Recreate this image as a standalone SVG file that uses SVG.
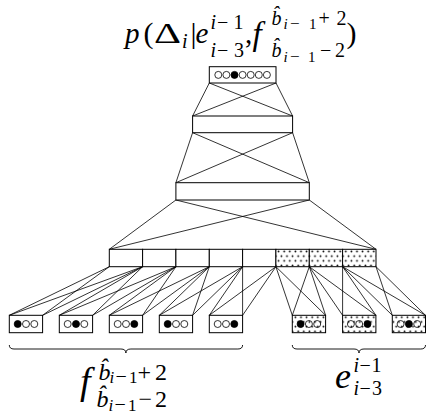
<svg xmlns="http://www.w3.org/2000/svg" width="426" height="414" viewBox="0 0 426 414">
<defs>
<pattern id="dots" width="5.6" height="9.4" patternUnits="userSpaceOnUse">
<rect width="5.6" height="9.4" fill="#fff"/>
<circle cx="1.4" cy="2.4" r="0.9" fill="#000"/>
<circle cx="4.2" cy="7.1" r="0.9" fill="#000"/>
</pattern>
</defs>
<style>
.bx{fill:#fff;stroke:#000;stroke-width:1}
.dt{fill:url(#dots);stroke:#000;stroke-width:1}
.co{fill:#fff;stroke:#000;stroke-width:0.8}
.cn{fill:none;stroke:#000;stroke-width:0.8}
.cf{fill:#000;stroke:#000;stroke-width:0.8}
#edges line{stroke:#000;stroke-width:0.8}
text{font-family:"Liberation Serif","Times New Roman",serif;fill:#000}
.i{font-style:italic}
</style>
<g id="edges">
<line x1="209.3" y1="83" x2="192.6" y2="116"/>
<line x1="276" y1="83" x2="292.6" y2="116"/>
<line x1="209.3" y1="83" x2="292.6" y2="116"/>
<line x1="276" y1="83" x2="192.6" y2="116"/>
<line x1="192.6" y1="132.7" x2="175.9" y2="182.7"/>
<line x1="292.6" y1="132.7" x2="309.3" y2="182.7"/>
<line x1="192.6" y1="132.7" x2="309.3" y2="182.7"/>
<line x1="292.6" y1="132.7" x2="175.9" y2="182.7"/>
<line x1="175.9" y1="200" x2="109.3" y2="249.3"/>
<line x1="309.3" y1="200" x2="376" y2="249.3"/>
<line x1="175.9" y1="200" x2="376" y2="249.3"/>
<line x1="309.3" y1="200" x2="109.3" y2="249.3"/>
<line x1="109.3" y1="266.7" x2="9.3" y2="315.3"/>
<line x1="142.6" y1="266.7" x2="42.6" y2="315.3"/>
<line x1="109.3" y1="266.7" x2="42.6" y2="315.3"/>
<line x1="142.6" y1="266.7" x2="9.3" y2="315.3"/>
<line x1="142.6" y1="266.7" x2="59.3" y2="315.3"/>
<line x1="175.9" y1="266.7" x2="92.6" y2="315.3"/>
<line x1="142.6" y1="266.7" x2="92.6" y2="315.3"/>
<line x1="175.9" y1="266.7" x2="59.3" y2="315.3"/>
<line x1="175.9" y1="266.7" x2="109.3" y2="315.3"/>
<line x1="209.3" y1="266.7" x2="142.6" y2="315.3"/>
<line x1="175.9" y1="266.7" x2="142.6" y2="315.3"/>
<line x1="209.3" y1="266.7" x2="109.3" y2="315.3"/>
<line x1="209.3" y1="266.7" x2="159.3" y2="315.3"/>
<line x1="242.6" y1="266.7" x2="192.6" y2="315.3"/>
<line x1="209.3" y1="266.7" x2="192.6" y2="315.3"/>
<line x1="242.6" y1="266.7" x2="159.3" y2="315.3"/>
<line x1="242.6" y1="266.7" x2="209.3" y2="315.3"/>
<line x1="275.9" y1="266.7" x2="242.6" y2="315.3"/>
<line x1="242.6" y1="266.7" x2="242.6" y2="315.3"/>
<line x1="275.9" y1="266.7" x2="209.3" y2="315.3"/>
<line x1="275.9" y1="266.7" x2="292.3" y2="315.3"/>
<line x1="309.3" y1="266.7" x2="325.6" y2="315.3"/>
<line x1="275.9" y1="266.7" x2="325.6" y2="315.3"/>
<line x1="309.3" y1="266.7" x2="292.3" y2="315.3"/>
<line x1="309.3" y1="266.7" x2="342.6" y2="315.3"/>
<line x1="342.6" y1="266.7" x2="375.9" y2="315.3"/>
<line x1="309.3" y1="266.7" x2="375.9" y2="315.3"/>
<line x1="342.6" y1="266.7" x2="342.6" y2="315.3"/>
<line x1="342.6" y1="266.7" x2="392.3" y2="315.3"/>
<line x1="376" y1="266.7" x2="425.5" y2="315.3"/>
<line x1="342.6" y1="266.7" x2="425.5" y2="315.3"/>
<line x1="376" y1="266.7" x2="392.3" y2="315.3"/>
</g>
<g id="out">
<rect class="bx" x="209.3" y="66.7" width="66.7" height="16.3"/>
<circle class="co" cx="218.3" cy="74.9" r="3.5"/>
<circle class="co" cx="226.4" cy="74.9" r="3.5"/>
<circle class="cf" cx="234.5" cy="74.9" r="3.5"/>
<circle class="co" cx="242.6" cy="74.9" r="3.5"/>
<circle class="co" cx="250.7" cy="74.9" r="3.5"/>
<circle class="co" cx="258.8" cy="74.9" r="3.5"/>
<circle class="co" cx="266.9" cy="74.9" r="3.5"/>
</g>
<g id="h2"><rect class="bx" x="192.6" y="116" width="100" height="16.7"/></g>
<g id="h3"><rect class="bx" x="175.9" y="182.7" width="133.4" height="17.3"/></g>
<g id="proj">
<rect class="bx" x="109.3" y="249.3" width="33.3" height="17.4"/>
<rect class="bx" x="142.6" y="249.3" width="33.3" height="17.4"/>
<rect class="bx" x="175.9" y="249.3" width="33.4" height="17.4"/>
<rect class="bx" x="209.3" y="249.3" width="33.3" height="17.4"/>
<rect class="bx" x="242.6" y="249.3" width="33.3" height="17.4"/>
<rect class="dt" x="275.9" y="249.3" width="33.4" height="17.4"/>
<rect class="dt" x="309.3" y="249.3" width="33.3" height="17.4"/>
<rect class="dt" x="342.6" y="249.3" width="33.4" height="17.4"/>
</g>
<g id="f1"><rect class="bx" x="9.3" y="315.3" width="33.3" height="17.4"/><circle class="cf" cx="17.7" cy="324" r="3.5"/><circle class="co" cx="26" cy="324" r="3.5"/><circle class="co" cx="34.3" cy="324" r="3.5"/></g>
<g id="f2"><rect class="bx" x="59.3" y="315.3" width="33.3" height="17.4"/><circle class="co" cx="67.7" cy="324" r="3.5"/><circle class="cf" cx="76" cy="324" r="3.5"/><circle class="co" cx="84.3" cy="324" r="3.5"/></g>
<g id="f3"><rect class="bx" x="109.3" y="315.3" width="33.3" height="17.4"/><circle class="co" cx="117.7" cy="324" r="3.5"/><circle class="co" cx="126" cy="324" r="3.5"/><circle class="cf" cx="134.3" cy="324" r="3.5"/></g>
<g id="f4"><rect class="bx" x="159.3" y="315.3" width="33.3" height="17.4"/><circle class="cf" cx="167.7" cy="324" r="3.5"/><circle class="co" cx="176" cy="324" r="3.5"/><circle class="co" cx="184.3" cy="324" r="3.5"/></g>
<g id="f5"><rect class="bx" x="209.3" y="315.3" width="33.3" height="17.4"/><circle class="co" cx="217.7" cy="324" r="3.5"/><circle class="co" cx="226" cy="324" r="3.5"/><circle class="cf" cx="234.3" cy="324" r="3.5"/></g>
<g id="e1"><rect class="dt" x="292.3" y="315.3" width="33.3" height="17.4"/><circle class="cf" cx="300.6" cy="324" r="3.5"/><circle class="cn" cx="308.9" cy="324" r="3.5"/><circle class="cn" cx="317.2" cy="324" r="3.5"/></g>
<g id="e2"><rect class="dt" x="342.6" y="315.3" width="33.3" height="17.4"/><circle class="cn" cx="350.9" cy="324" r="3.5"/><circle class="cn" cx="359.2" cy="324" r="3.5"/><circle class="cf" cx="367.5" cy="324" r="3.5"/></g>
<g id="e3"><rect class="dt" x="392.3" y="315.3" width="33.2" height="17.4"/><circle class="cn" cx="400.6" cy="324" r="3.5"/><circle class="cf" cx="408.9" cy="324" r="3.5"/><circle class="cn" cx="417.2" cy="324" r="3.5"/></g>
<g id="braces" fill="none" stroke="#000" stroke-width="0.9">
<path d="M9.3,345 Q9.3,349 14,349 L120.9,349 Q125.9,349 125.9,353 Q125.9,349 130.9,349 L237.9,349 Q242.6,349 242.6,345"/>
<path d="M292.3,345 Q292.3,349 297,349 L354,349 Q359,349 359,353 Q359,349 364,349 L420.8,349 Q425.5,349 425.5,345"/>
</g>
<g id="title">
<text y="43" font-size="29"><tspan class="i" x="125">p</tspan><tspan x="143.5" font-size="30">(</tspan></text>
<text x="154" y="43" font-size="29" textLength="27" lengthAdjust="spacingAndGlyphs">Δ</text>
<text font-size="20"><tspan class="i" x="182" y="47.5">i</tspan><tspan x="190.5" y="43" font-size="30">|</tspan><tspan class="i" x="195.5" y="43" font-size="29">e</tspan><tspan class="i" x="210.5" y="28.5">i</tspan><tspan x="217 233.5" y="28.5">−1</tspan><tspan class="i" x="210.5" y="56.5">i</tspan><tspan x="217 234" y="56.5">−3</tspan><tspan x="245" y="43" font-size="29">,</tspan><tspan class="i" x="252.5" y="45" font-size="33">f</tspan><tspan class="i" x="271.5" y="25">b&#x302;</tspan><tspan class="i" x="283.5" y="28.5" font-size="15">i</tspan><tspan x="290" y="28.5" font-size="17">−</tspan><tspan x="309" y="28.5" font-size="15">1</tspan><tspan x="318.5 336.5" y="25">+2</tspan><tspan class="i" x="271.5" y="56.5">b&#x302;</tspan><tspan class="i" x="283.5" y="61.5" font-size="15">i</tspan><tspan x="290" y="61.5" font-size="17">−</tspan><tspan x="308" y="61.5" font-size="15">1</tspan><tspan x="320 335" y="56.5">−2</tspan><tspan x="346.5" y="43" font-size="30">)</tspan></text>
</g>
<g id="flabel">
<text font-size="24"><tspan class="i" x="80" y="394" font-size="38">f</tspan><tspan class="i" x="98.5" y="380">b&#x302;</tspan><tspan class="i" x="109.5" y="383" font-size="17">i</tspan><tspan x="115.5" y="383" font-size="20">−</tspan><tspan x="129" y="383" font-size="17">1</tspan><tspan x="137.5 155" y="380">+2</tspan><tspan class="i" x="96.5" y="407">b&#x302;</tspan><tspan class="i" x="108.5" y="411" font-size="17">i</tspan><tspan x="114.5" y="411" font-size="20">−</tspan><tspan x="128" y="411" font-size="17">1</tspan><tspan x="138.5 155" y="407">−2</tspan></text>
</g>
<g id="elabel">
<text font-size="20"><tspan class="i" x="335" y="388" font-size="36">e</tspan><tspan class="i" x="353.5" y="371.5">i</tspan><tspan x="359.5 371.5" y="371.5">−1</tspan><tspan class="i" x="353.5" y="395">i</tspan><tspan x="359.5 372" y="395">−3</tspan></text>
</g>
</svg>
